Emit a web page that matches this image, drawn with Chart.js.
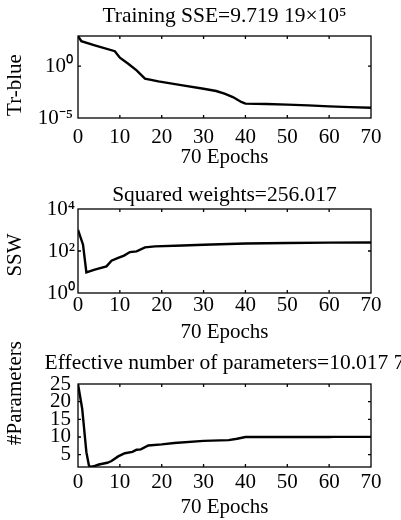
<!DOCTYPE html>
<html>
<head>
<meta charset="utf-8">
<script src="https://cdn.jsdelivr.net/npm/chart.js@4.4.1/dist/chart.umd.min.js"></script>
<style>
  body { margin: 0; background: #fff; }
  #wrap { position: relative; width: 401px; height: 520px; overflow: hidden; }
  canvas { position: absolute; left: 0; }
</style>
</head>
<body>
<div id="wrap">
  <canvas id="sse" width="401" height="175" style="top:0"></canvas>
  <canvas id="ssw" width="401" height="175" style="top:175px"></canvas>
  <canvas id="gamma" width="401" height="200" style="top:320px"></canvas>
</div>
<script>
// training sum of squared errors per epoch
const sseEpochs = [0, 0.8, 4, 8.8, 10, 12, 14, 16, 19.2, 25, 30, 33, 35, 37, 39, 40, 45, 50, 55, 60, 65, 70];
const sseValues = [800, 251, 100, 27.5, 6.46, 1.7, 0.39, 0.062, 0.034, 0.0138, 0.0066, 0.004, 0.0022, 0.00105,
  0.00035, 0.00024, 0.00022, 0.000195, 0.000166, 0.000132, 0.000112, 0.0000971919];
const sseTicks = [1e-5, 1];
const sseTickLabels = ['10\u207B\u2075', '10\u2070'];

// sum of squared weights
const sswEpochs = [0, 1.2, 2, 4, 6.8, 8, 9.6, 11, 12.4, 14, 16, 18.4, 25, 30, 40, 50, 60, 70];
const sswValues = [1020, 200, 9.5, 12.9, 18.6, 34.7, 46.8, 60.3, 89, 95.5, 148, 166, 182, 200, 229, 240, 251, 256.017];
const sswTicks = [1, 100, 10000];
const sswTickLabels = ['10\u2070', '10\u00B2', '10\u2074'];

// effective number of parameters
const gammaEpochs = [0, 1, 2, 2.6, 2.9, 4, 5, 7, 8, 9.6, 11.2, 13, 14, 15, 16.8, 20, 23, 30, 36, 38, 40, 60, 61, 70];
const gammaValues = [25, 18, 5.7, 2.0, 1.5, 1.8, 2.2, 2.7, 3.2, 4.5, 5.4, 5.8, 6.4, 6.5, 7.6, 7.9, 8.3, 8.9, 9.1,
  9.5, 10.0, 10.0, 10.02, 10.0177];
const gammaTicks = [5, 10, 15, 20, 25];

const epochTicks = [0, 10, 20, 30, 40, 50, 60, 70];

const FONT = 'Liberation Serif, Times New Roman, serif';
const SIZE = 21;

// box around the plot, inward ticks on all four sides, title above, y label at the left
const framePlugin = {
  id: 'frame',
  afterDraw(chart, args, opts) {
    const {ctx, chartArea: a} = chart;
    const x = chart.scales.x, y = chart.scales.y;
    ctx.save();
    ctx.strokeStyle = '#000';
    ctx.lineWidth = 1.3;
    ctx.strokeRect(a.left, a.top, a.right - a.left, a.bottom - a.top);
    const len = 3;
    ctx.beginPath();
    x.ticks.forEach(t => {
      if (t.value <= x.min || t.value >= x.max) return;
      const px = x.getPixelForValue(t.value);
      ctx.moveTo(px, a.bottom); ctx.lineTo(px, a.bottom - len);
      ctx.moveTo(px, a.top); ctx.lineTo(px, a.top + len);
    });
    y.ticks.forEach(t => {
      if (t.value <= y.min || t.value >= y.max) return;
      const py = y.getPixelForValue(t.value);
      ctx.moveTo(a.left, py); ctx.lineTo(a.left + len, py);
      ctx.moveTo(a.right, py); ctx.lineTo(a.right - len, py);
    });
    ctx.stroke();
    ctx.fillStyle = '#000';
    ctx.textAlign = 'center';
    ctx.textBaseline = 'middle';
    ctx.font = '21.5px ' + FONT;
    ctx.fillText(opts.text, (a.left + a.right) / 2, opts.y);
    ctx.font = SIZE + 'px ' + FONT;
    ctx.translate(15, opts.yLabelY);
    ctx.rotate(-Math.PI / 2);
    ctx.fillText(opts.yLabel, 0, 0);
    ctx.restore();
  }
};

function makePanel(id, o) {
  const points = o.epochs.map((e, i) => ({x: e, y: o.values[i]}));
  return new Chart(document.getElementById(id), {
    type: 'line',
    data: {
      datasets: [{
        data: points,
        borderColor: '#000',
        borderWidth: 2.4,
        pointRadius: 0,
        tension: 0,
        fill: false
      }]
    },
    options: {
      responsive: false,
      animation: false,
      devicePixelRatio: 1,
      layout: {padding: {top: o.top, right: 30, left: 0, bottom: 0}},
      plugins: {
        legend: {display: false},
        tooltip: {enabled: false},
        frame: {text: o.title, y: o.titleY, yLabel: o.yTitle, yLabelY: o.yTitleY}
      },
      scales: {
        x: {
          type: 'linear', min: 0, max: 70,
          afterBuildTicks: s => { s.ticks = epochTicks.map(v => ({value: v})); },
          afterFit: s => { s.height = o.xHeight; },
          grid: {display: false, drawTicks: false},
          border: {display: false},
          ticks: {autoSkip: false, maxRotation: 0, padding: o.xPad, color: '#000',
            font: {family: FONT, size: SIZE}, callback: v => String(v)},
          title: {display: true, text: '70 Epochs', color: '#000',
            font: {family: FONT, size: SIZE}, padding: {top: 0, bottom: o.xTitlePad}}
        },
        y: {
          type: o.log ? 'logarithmic' : 'linear', min: o.min, max: o.max,
          afterBuildTicks: s => { s.ticks = o.ticks.map(v => ({value: v})); },
          afterFit: s => { s.width = 78; },
          grid: {display: false, drawTicks: false},
          border: {display: false},
          ticks: {autoSkip: false, padding: o.yPad, color: '#000',
            font: {family: FONT, size: SIZE},
            callback: (v, i) => o.labels ? o.labels[i] : String(v)}
        }
      }
    },
    plugins: [framePlugin]
  });
}

makePanel('sse', {
  epochs: sseEpochs, values: sseValues, log: true, min: 1e-5, max: 800,
  ticks: sseTicks, labels: sseTickLabels, yTitle: 'Tr-blue', yTitleY: 85,
  title: 'Training SSE=9.719 19\u00D710\u2075', titleY: 16,
  top: 36, xHeight: 57, xPad: 7, xTitlePad: 5, yPad: 5
});

makePanel('ssw', {
  epochs: sswEpochs, values: sswValues, log: true, min: 1, max: 10000,
  ticks: sswTicks, labels: sswTickLabels, yTitle: 'SSW', yTitleY: 80,
  title: 'Squared weights=256.017', titleY: 20,
  top: 34, xHeight: 57, xPad: 0, xTitlePad: 5, yPad: 3
});

makePanel('gamma', {
  epochs: gammaEpochs, values: gammaValues, log: false, min: 1.5, max: 25,
  ticks: gammaTicks, labels: null, yTitle: '#Parameters', yTitleY: 73,
  title: 'Effective number of parameters=10.017 7', titleY: 43,
  top: 64, xHeight: 53, xPad: 3, xTitlePad: 0, yPad: 7
});
</script>
</body>
</html>
